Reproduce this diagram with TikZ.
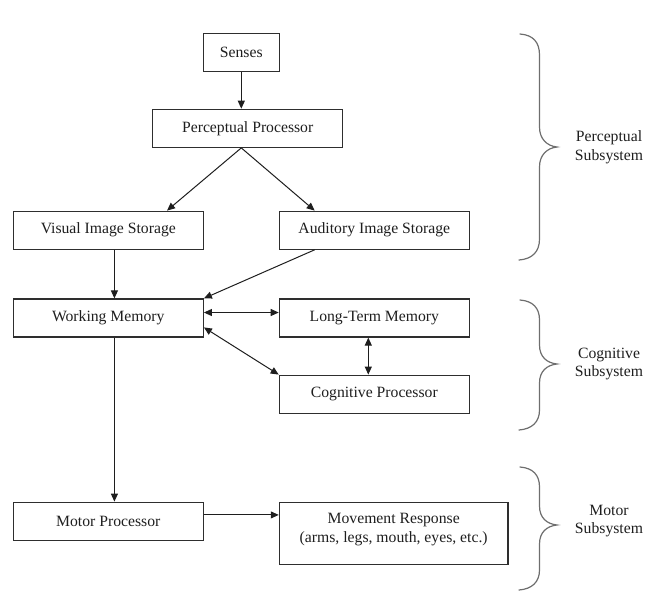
\documentclass[tikz,border=0pt]{standalone}
\usepackage{fontspec}
\setmainfont{Liberation Serif}
\usetikzlibrary{calc,arrows.meta}

\definecolor{ink}{HTML}{1E1E1E}
\definecolor{edge}{HTML}{2E2E2E}
\definecolor{bracecol}{HTML}{6E6E6E}

\begin{document}
\begin{tikzpicture}[x=1pt,y=-1pt,
  font=\fontsize{15.7}{18.5}\selectfont,
  box/.style={draw=edge, line width=1.2pt, text=ink, inner sep=0pt,
    minimum height=38pt, minimum width=190pt, align=center},
  arr/.style={draw=ink, line width=1pt, -{Triangle[length=8pt,width=7pt]}},
  dbl/.style={draw=ink, line width=1pt, {Triangle[length=8pt,width=7pt]}-{Triangle[length=8pt,width=7pt]}},
  brace/.style={draw=bracecol, line width=1.2pt, line cap=round},
  sublabel/.style={text=ink, align=center, inner sep=0pt}
]
\useasboundingbox (0,0) rectangle (645,592);

% processing stages
\node[box, minimum width=76pt] (S)   at (241.3,52.5)  {Senses};
\node[box] (PP)  at (247.7,128.3) {Perceptual Processor};
\node[box] (VIS) at (108.3,230.2) {Visual Image Storage};
\node[box] (AIS) at (374.3,230.2) {Auditory Image Storage};
\node[box] (WM)  at (108.3,318)   {Working Memory};
\node[box] (LTM) at (374.3,318)   {Long-Term Memory};
\node[box] (CP)  at (374.3,394.2) {Cognitive Processor};
\node[box] (MP)  at (108.3,521.2) {Motor Processor};
\node[box, minimum width=228.7pt, minimum height=62pt, text depth=11.5pt] (MR) at (393.7,533.5)
  {Movement Response\\(arms, legs, mouth, eyes, etc.)};

% attachment points
\coordinate (ppout) at (S.south |- PP.south);
\coordinate (visin) at ($(VIS.north west)!0.807!(VIS.north east)$);
\coordinate (aisin) at ($(AIS.north west)!0.188!(AIS.north east)$);
\coordinate (visout) at ($(VIS.south west)!0.532!(VIS.south east)$);
\coordinate (aisout) at ($(AIS.south west)!0.188!(AIS.south east)$);
\coordinate (wmout) at ($(WM.south west)!0.532!(WM.south east)$);
\coordinate (wmltm) at ($(WM.north east)!0.36!(WM.south east)$);
\coordinate (wmcp) at ($(WM.north east)!0.74!(WM.south east)$);
\coordinate (ltmcp) at ($(LTM.south)+(-6,0)$);
\coordinate (mpmr) at ($(MP.north east)!0.34!(MP.south east)$);

% information flow
\draw[arr] (S.south) -- (S.south |- PP.north);
\draw[arr] (ppout) -- (visin);
\draw[arr] (ppout) -- (aisin);
\draw[arr] (visout) -- (visout |- WM.north);
\draw[arr] (aisout) -- (WM.north east);
\draw[dbl] (wmltm) -- (wmltm -| LTM.west);
\draw[dbl] (wmcp) -- (CP.north west);
\draw[dbl] (ltmcp) -- (ltmcp |- CP.north);
\draw[arr] (wmout) -- (wmout |- MP.north);
\draw[arr] (mpmr) -- (mpmr -| MR.west);

% subsystem braces
\draw[brace] (520,34) .. controls (533,35) and (539.5,42) .. (539.5,55)
  -- (539.5,127) .. controls (539.5,139) and (547,146) .. (557,147)
  .. controls (547,148) and (539.5,155) .. (539.5,167)
  -- (539.5,239) .. controls (539.5,252) and (532,259) .. (519,260);
\node[sublabel] (perc) at (609,147) {Perceptual\\Subsystem};

\draw[brace] (520,300) .. controls (533,301) and (539.5,308) .. (539.5,320)
  -- (539.5,345) .. controls (539.5,357) and (547,363) .. (557,364)
  .. controls (547,365) and (539.5,371) .. (539.5,383)
  -- (539.5,410) .. controls (539.5,422) and (532,429) .. (519,430);
\node[sublabel] (cogn) at (609,364) {Cognitive\\Subsystem};

\draw[brace] (520,467) .. controls (533,468) and (539.5,475) .. (539.5,487)
  -- (539.5,506) .. controls (539.5,518) and (547,524) .. (557,525)
  .. controls (547,526) and (539.5,532) .. (539.5,544)
  -- (539.5,570) .. controls (539.5,582) and (532,589) .. (519,590);
\node[sublabel] (motr) at (609,521) {Motor\\Subsystem};
\end{tikzpicture}
\end{document}
